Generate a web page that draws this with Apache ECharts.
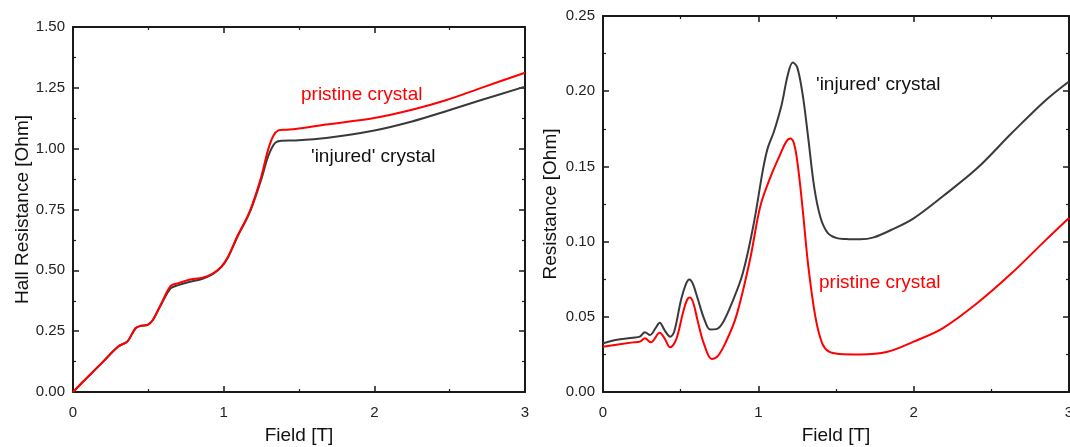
<!DOCTYPE html>
<html><head><meta charset="utf-8">
<script src="https://cdn.jsdelivr.net/npm/echarts@6/dist/echarts.min.js"></script>
<style>html,body{margin:0;padding:0;background:#fff}#c{width:1070px;height:447px}</style>
</head><body><div id="c"></div>
<script>
// Left panel: Hall resistance vs field
const hallPristineX = [0,0.10,0.20,0.30,0.36,0.415,0.45,0.495,0.53,0.587,0.648,0.70,0.77,0.86,0.93,0.986,1.03,1.09,1.158,1.19,1.25,1.295,1.33,1.363,1.41,1.477,1.68,2.0,2.25,2.48,2.71,3.0];
const hallPristineY = [0,0.063,0.125,0.187,0.207,0.262,0.272,0.276,0.296,0.365,0.436,0.447,0.461,0.470,0.488,0.516,0.557,0.639,0.721,0.77,0.886,0.996,1.053,1.075,1.078,1.081,1.099,1.126,1.16,1.20,1.25,1.312];
const hallInjuredX = [0,0.10,0.20,0.30,0.36,0.415,0.45,0.495,0.53,0.587,0.648,0.70,0.77,0.86,0.93,0.986,1.03,1.09,1.158,1.19,1.25,1.295,1.34,1.386,1.477,1.68,2.0,2.25,2.48,2.71,3.0];
const hallInjuredY = [0,0.063,0.125,0.187,0.207,0.262,0.272,0.276,0.296,0.362,0.426,0.439,0.452,0.465,0.485,0.514,0.555,0.636,0.718,0.765,0.875,0.968,1.023,1.033,1.034,1.044,1.075,1.112,1.155,1.200,1.255];

// Right panel: resistance vs field
const resInjuredX = [0,0.082,0.193,0.237,0.27,0.303,0.337,0.365,0.396,0.432,0.458,0.503,0.535,0.556,0.578,0.610,0.650,0.690,0.730,0.770,0.835,0.900,0.967,1.030,1.060,1.100,1.150,1.190,1.222,1.250,1.285,1.320,1.360,1.400,1.445,1.500,1.566,1.655,1.743,1.854,2.0,2.186,2.408,2.63,2.85,3.0];
const resInjuredY = [0.0324,0.0346,0.0361,0.0368,0.0397,0.0379,0.0423,0.0461,0.0412,0.0368,0.040,0.0615,0.0720,0.0748,0.0720,0.0620,0.0490,0.0415,0.0418,0.0458,0.0605,0.0790,0.1100,0.1480,0.1620,0.1730,0.1910,0.2110,0.2190,0.2160,0.1980,0.1700,0.1360,0.1160,0.1060,0.1025,0.1017,0.1015,0.1028,0.1077,0.1155,0.130,0.1487,0.172,0.194,0.2065];
const resPristineX = [0,0.193,0.237,0.27,0.308,0.365,0.396,0.432,0.47,0.514,0.540,0.560,0.582,0.610,0.650,0.700,0.740,0.790,0.857,0.946,1.012,1.079,1.145,1.180,1.205,1.230,1.255,1.285,1.322,1.367,1.411,1.455,1.522,1.655,1.832,2.0,2.186,2.408,2.63,2.85,3.0];
const resPristineY = [0.0301,0.033,0.0335,0.0357,0.033,0.0394,0.0357,0.0297,0.0346,0.0523,0.0610,0.0628,0.0590,0.0470,0.0320,0.0220,0.0240,0.0330,0.0501,0.0878,0.1232,0.1432,0.1590,0.1665,0.1685,0.1650,0.1500,0.1220,0.0833,0.0501,0.0324,0.0268,0.0253,0.025,0.0268,0.0335,0.0423,0.059,0.0789,0.101,0.1157];

const xTicks = [0,1,2,3];
const leftYTicks = ['0.00','0.25','0.50','0.75','1.00','1.25','1.50'];
const rightYTicks = ['0.00','0.05','0.10','0.15','0.20','0.25'];

const zip = (xs, ys) => xs.map((x, i) => [x, ys[i]]);
const FONT = 'Liberation Sans, Arial, sans-serif';
const AX = '#1a1a1a';

function xAx(grid, show, pos) {
  return {
    type: 'value', gridIndex: grid, min: 0, max: 3, interval: 1, position: pos,
    name: show ? 'Field [T]' : '', nameLocation: 'middle', nameGap: 34,
    nameTextStyle: { fontFamily: FONT, fontSize: 19, color: '#111' },
    axisLine: { show: true, onZero: false, lineStyle: { color: AX, width: 2 } },
    axisTick: { show: true, inside: true, length: 6, lineStyle: { color: AX, width: 1.5 } },
    minorTick: { show: true, splitNumber: 2, length: 3, lineStyle: { color: AX, width: 1.2 } },
    axisLabel: { show: show, margin: 13, fontFamily: FONT, fontSize: 15, color: '#222',
      formatter: v => xTicks.includes(v) ? String(v) : '' },
    splitLine: { show: false }
  };
}
function yAx(grid, show, pos, max, interval, labels, name, gap) {
  return {
    type: 'value', gridIndex: grid, min: 0, max: max, interval: interval, position: pos,
    name: show ? name : '', nameLocation: 'middle', nameGap: gap, nameRotate: 90,
    nameTextStyle: { fontFamily: FONT, fontSize: 19, color: '#111' },
    axisLine: { show: true, onZero: false, lineStyle: { color: AX, width: 2 } },
    axisTick: { show: true, inside: true, length: 6, lineStyle: { color: AX, width: 1.5 } },
    minorTick: { show: true, splitNumber: 2, length: 3, lineStyle: { color: AX, width: 1.2 } },
    axisLabel: { show: show, margin: 8, fontFamily: FONT, fontSize: 15, color: '#222',
      formatter: v => { const i = Math.round(v / interval); return labels[i] || ''; } },
    splitLine: { show: false }
  };
}

const chart = echarts.init(document.getElementById('c'), null, { renderer: 'canvas' });
const lineStyleBase = { width: 2 };
chart.setOption({
  backgroundColor: '#fff',
  animation: false,
  grid: [
    { left: 73, top: 27, width: 452, height: 365, outerBoundsMode: 'none', containLabel: false },
    { left: 603, top: 16, width: 466, height: 376, outerBoundsMode: 'none', containLabel: false }
  ],
  xAxis: [ xAx(0, true, 'bottom'), xAx(0, false, 'top'), xAx(1, true, 'bottom'), xAx(1, false, 'top') ],
  yAxis: [
    yAx(0, true, 'left', 1.5, 0.25, leftYTicks, 'Hall Resistance [Ohm]', 41),
    yAx(0, false, 'right', 1.5, 0.25, leftYTicks, '', 0),
    yAx(1, true, 'left', 0.25, 0.05, rightYTicks, 'Resistance [Ohm]', 43),
    yAx(1, false, 'right', 0.25, 0.05, rightYTicks, '', 0)
  ],
  series: [
    { type: 'line', xAxisIndex: 0, yAxisIndex: 0, data: zip(hallInjuredX, hallInjuredY), smooth: 0.3, showSymbol: false, lineStyle: Object.assign({ color: '#3a3a3a' }, lineStyleBase), z: 2 },
    { type: 'line', xAxisIndex: 0, yAxisIndex: 0, data: zip(hallPristineX, hallPristineY), smooth: 0.3, showSymbol: false, lineStyle: Object.assign({ color: '#ff0000' }, lineStyleBase), z: 3 },
    { type: 'line', xAxisIndex: 2, yAxisIndex: 2, data: zip(resInjuredX, resInjuredY), smooth: 0.35, showSymbol: false, lineStyle: Object.assign({ color: '#3a3a3a' }, lineStyleBase), z: 2 },
    { type: 'line', xAxisIndex: 2, yAxisIndex: 2, data: zip(resPristineX, resPristineY), smooth: 0.35, showSymbol: false, lineStyle: Object.assign({ color: '#ff0000' }, lineStyleBase), z: 3 }
  ],
  graphic: [
    { type: 'text', x: 301, y: 95, style: { text: 'pristine crystal', fontFamily: FONT, fontSize: 19, fill: '#ff0000', verticalAlign: 'middle' } },
    { type: 'text', x: 311, y: 157, style: { text: "'injured' crystal", fontFamily: FONT, fontSize: 19, fill: '#111', verticalAlign: 'middle' } },
    { type: 'text', x: 816, y: 85, style: { text: "'injured' crystal", fontFamily: FONT, fontSize: 19, fill: '#111', verticalAlign: 'middle' } },
    { type: 'text', x: 819, y: 283, style: { text: 'pristine crystal', fontFamily: FONT, fontSize: 19, fill: '#ff0000', verticalAlign: 'middle' } }
  ]
});
</script></body></html>
